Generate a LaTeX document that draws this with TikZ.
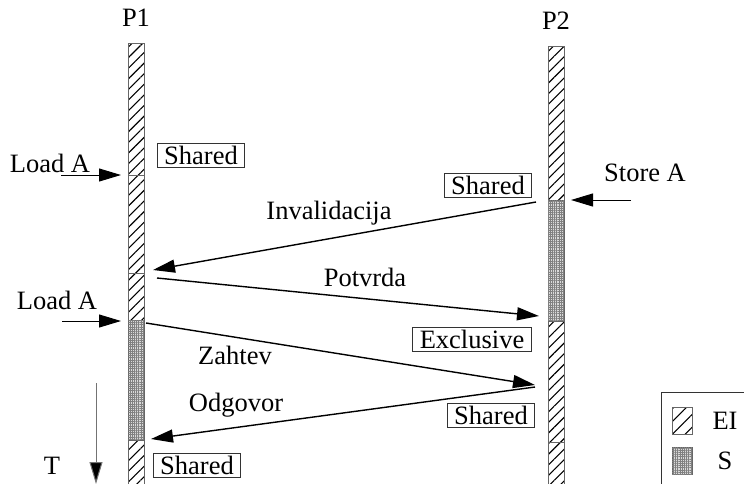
\documentclass[tikz,border=0pt]{standalone}
\usepackage{fontspec}
\setmainfont{Liberation Serif}
\usetikzlibrary{arrows.meta,patterns.meta}
\begin{document}
\begin{tikzpicture}[x=1pt,y=-1pt,
  every node/.style={font=\fontsize{26.5}{30}\selectfont, inner sep=0pt},
  hatched/.style={draw=black!60, line width=1pt,
    pattern={Lines[angle=45,distance=7.5pt,line width=1.1pt]}, pattern color=black},
  dotted box/.style={draw=black!60, line width=1pt, fill=black!15,
    postaction={pattern={Hatch[angle=0,distance=2.2pt,line width=0.45pt]}, pattern color=black!50}},
  state/.style={draw=black!80, line width=0.8pt, inner xsep=7pt, inner ysep=0pt,
    minimum height=24pt},
  msg/.style={line width=1.4pt, -{Triangle[length=22pt,width=13pt]}},
  ext/.style={line width=1pt, -{Triangle[length=22pt,width=13pt]}}
]
\useasboundingbox (0,0) rectangle (744,483);

% process time lines
\draw[hatched] (128,43) rectangle (144,175);
\draw[hatched] (128,175) rectangle (144,273);
\draw[hatched] (128,273) rectangle (144,320);
\draw[dotted box] (128,320) rectangle (144,440);
\draw[hatched] (128,440) rectangle (144,495);

\draw[hatched] (548,46) rectangle (564,200);
\draw[dotted box] (548,200) rectangle (564,321);
\draw[hatched] (548,321) rectangle (564,442);
\draw[hatched] (548,442) rectangle (564,495);

\node (p1) at (136,18) {P1};
\node (p2) at (556,21) {P2};

% local requests
\node (loadA1) at (50,163) {Load A};
\coordinate (l1s) at (61,175);
\coordinate (l1e) at (121,175);
\draw[ext] (l1s) -- (l1e);

\node (loadA2) at (57,300) {Load A};
\coordinate (l2s) at (62,321);
\coordinate (l2e) at (121,321);
\draw[ext] (l2s) -- (l2e);

\node (storeA) at (645,173) {Store A};
\coordinate (s1s) at (631,200);
\coordinate (s1e) at (571,200);
\draw[ext] (s1s) -- (s1e);

% cache states
\node[state] (sh1) at (201,155) {Shared};
\node[state] (sh2) at (488,185) {Shared};
\node[state] (ex) at (472,339) {Exclusive};
\node[state] (sh3) at (491,415) {Shared};
\node[state] (sh4) at (197,465) {Shared};

% bus messages
\coordinate (invS) at (536,202);
\coordinate (invE) at (153,270);
\draw[msg] (invS) -- (invE);
\node (inv) at (329,213) {Invalidacija};

\coordinate (potS) at (157,278);
\coordinate (potE) at (539,316);
\draw[msg] (potS) -- (potE);
\node (pot) at (365,277) {Potvrda};

\coordinate (zahS) at (146,323);
\coordinate (zahE) at (535,385);
\draw[msg] (zahS) -- (zahE);
\node (zah) at (235,355) {Zahtev};

\coordinate (odgS) at (535,387);
\coordinate (odgE) at (151,439);
\draw[msg] (odgS) -- (odgE);
\node (odg) at (236,405) {Odgovor};

% time axis
\coordinate (tS) at (96,383);
\coordinate (tE) at (96,484);
\draw[line width=1pt, draw=black!55, -{Triangle[length=22pt,width=13pt,fill=black]}] (tS) -- (tE);
\node (t) at (52,466) {T};

% legend
\draw[draw=black!80, line width=0.8pt] (770,392) -- (661,392) -- (661,495);
\draw[hatched, pattern={Lines[angle=45,distance=9pt,line width=1.1pt]}] (672,407) rectangle (692,434);
\node (ei) at (725,421) {EI};
\draw[dotted box] (672,447) rectangle (692,474);
\node (s) at (725,461) {S};
\end{tikzpicture}
\end{document}
